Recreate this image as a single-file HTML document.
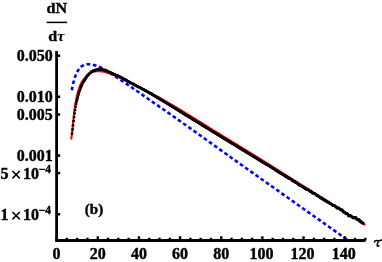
<!DOCTYPE html>
<html><head><meta charset="utf-8"><style>
html,body{margin:0;padding:0;background:#fff;}
svg{display:block;will-change:transform;transform:translateZ(0)}
text{font-family:"Liberation Serif",serif;font-weight:bold;font-size:16px;fill:#000;stroke:#000;stroke-width:0.4px;stroke-linejoin:round}
</style></head><body>
<svg width="382" height="262" viewBox="0 0 382 262">
<rect width="382" height="262" fill="#fff"/>
<path d="M71.80,90.30 L72.49,86.69 L73.18,83.51 L73.87,80.77 L74.56,78.33 L75.25,76.28 L75.94,74.52 L76.62,72.96 L77.31,71.61 L78.00,70.49 L78.69,69.47 L79.38,68.51 L80.07,67.65 L80.76,66.92 L81.45,66.33 L82.14,65.93 L82.83,65.60 L83.52,65.30 L84.21,65.01 L84.90,64.77 L85.58,64.55 L86.27,64.39 L86.96,64.27 L87.65,64.21 L88.34,64.20 L89.03,64.24 L89.72,64.30 L90.41,64.39 L91.10,64.50 L91.79,64.62 L92.48,64.76 L93.17,64.91 L93.86,65.06 L94.54,65.21 L95.23,65.38 L95.92,65.57 L96.61,65.79 L97.30,66.03 L97.99,66.28 L98.68,66.55 L99.37,66.83 L100.06,67.12 L100.75,67.43 L101.44,67.76 L102.13,68.11 L102.82,68.48 L103.50,68.87 L104.19,69.27 L104.88,69.69 L105.57,70.11 L106.26,70.55 L106.95,70.99 L107.64,71.43 L108.33,71.88 L109.02,72.33 L109.71,72.78 L110.40,73.23 L111.09,73.66 L111.77,74.10 L112.46,74.55 L113.15,75.00 L113.84,75.46 L114.53,75.92 L115.22,76.38 L115.91,76.84 L116.60,77.30 L117.29,77.76 L117.98,78.22 L118.67,78.68 L119.36,79.14 L120.05,79.60 L120.73,80.06 L121.42,80.52 L122.11,80.98 L122.80,81.43 L123.49,81.88 L124.18,82.34 L124.87,82.79 L125.56,83.24 L126.25,83.70 L126.94,84.16 L127.63,84.62 L128.32,85.09 L129.01,85.56 L129.69,86.04 L130.38,86.52 L131.07,86.99 L131.76,87.47 L132.45,87.94 L133.14,88.41 L133.83,88.88 L134.52,89.35 L135.21,89.82 L135.90,90.29 L136.59,90.77 L137.28,91.24 L137.97,91.72 L138.65,92.21 L139.34,92.69 L140.03,93.18 L140.72,93.67 L141.41,94.16 L142.10,94.65 L142.79,95.13 L143.48,95.62 L144.17,96.10 L144.86,96.58 L145.55,97.06 L146.24,97.54 L146.93,98.03 L147.61,98.51 L148.30,99.00 L148.99,99.48 L149.68,99.97 L150.37,100.46 L151.06,100.94 L151.75,101.43 L152.44,101.91 L153.13,102.39 L153.82,102.86 L154.51,103.33 L155.20,103.80 L155.89,104.26 L156.57,104.72 L157.26,105.19 L157.95,105.66 L158.64,106.14 L159.33,106.61 L160.02,107.09 L160.71,107.56 L161.40,108.04 L162.09,108.52 L162.78,109.00 L163.47,109.48 L164.16,109.95 L164.85,110.43 L165.53,110.91 L166.22,111.39 L166.91,111.87 L167.60,112.35 L168.29,112.83 L168.98,113.32 L169.67,113.80 L170.36,114.28 L171.05,114.76 L171.74,115.25 L172.43,115.73 L173.12,116.21 L173.81,116.70 L174.49,117.18 L175.18,117.66 L175.87,118.15 L176.56,118.63 L177.25,119.12 L177.94,119.61 L178.63,120.09 L179.32,120.58 L180.01,121.06 L180.70,121.55 L181.39,122.04 L182.08,122.53 L182.76,123.01 L183.45,123.50 L184.14,123.99 L184.83,124.48 L185.52,124.97 L186.21,125.46 L186.90,125.95 L187.59,126.43 L188.28,126.92 L188.97,127.41 L189.66,127.90 L190.35,128.39 L191.04,128.88 L191.72,129.37 L192.41,129.87 L193.10,130.36 L193.79,130.85 L194.48,131.34 L195.17,131.83 L195.86,132.32 L196.55,132.81 L197.24,133.30 L197.93,133.80 L198.62,134.29 L199.31,134.78 L200.00,135.27 L200.68,135.77 L201.37,136.26 L202.06,136.75 L202.75,137.24 L203.44,137.74 L204.13,138.23 L204.82,138.72 L205.51,139.22 L206.20,139.71 L206.89,140.20 L207.58,140.70 L208.27,141.19 L208.96,141.68 L209.64,142.18 L210.33,142.67 L211.02,143.16 L211.71,143.66 L212.40,144.15 L213.09,144.64 L213.78,145.14 L214.47,145.63 L215.16,146.12 L215.85,146.62 L216.54,147.11 L217.23,147.60 L217.92,148.10 L218.60,148.59 L219.29,149.08 L219.98,149.58 L220.67,150.07 L221.36,150.56 L222.05,151.06 L222.74,151.55 L223.43,152.04 L224.12,152.54 L224.81,153.03 L225.50,153.52 L226.19,154.02 L226.88,154.51 L227.56,155.00 L228.25,155.49 L228.94,155.98 L229.63,156.48 L230.32,156.97 L231.01,157.46 L231.70,157.95 L232.39,158.44 L233.08,158.94 L233.77,159.43 L234.46,159.92 L235.15,160.41 L235.84,160.90 L236.52,161.39 L237.21,161.88 L237.90,162.37 L238.59,162.86 L239.28,163.35 L239.97,163.84 L240.66,164.33 L241.35,164.82 L242.04,165.31 L242.73,165.80 L243.42,166.29 L244.11,166.77 L244.79,167.26 L245.48,167.75 L246.17,168.24 L246.86,168.73 L247.55,169.22 L248.24,169.70 L248.93,170.19 L249.62,170.68 L250.31,171.17 L251.00,171.66 L251.69,172.14 L252.38,172.63 L253.07,173.12 L253.75,173.61 L254.44,174.10 L255.13,174.58 L255.82,175.07 L256.51,175.56 L257.20,176.05 L257.89,176.54 L258.58,177.02 L259.27,177.51 L259.96,178.00 L260.65,178.49 L261.34,178.98 L262.03,179.46 L262.71,179.95 L263.40,180.44 L264.09,180.93 L264.78,181.42 L265.47,181.90 L266.16,182.39 L266.85,182.88 L267.54,183.37 L268.23,183.85 L268.92,184.34 L269.61,184.83 L270.30,185.32 L270.99,185.80 L271.67,186.29 L272.36,186.78 L273.05,187.27 L273.74,187.76 L274.43,188.24 L275.12,188.73 L275.81,189.22 L276.50,189.71 L277.19,190.19 L277.88,190.68 L278.57,191.17 L279.26,191.66 L279.95,192.14 L280.63,192.63 L281.32,193.12 L282.01,193.61 L282.70,194.09 L283.39,194.58 L284.08,195.07 L284.77,195.56 L285.46,196.04 L286.15,196.53 L286.84,197.02 L287.53,197.51 L288.22,197.99 L288.91,198.48 L289.59,198.97 L290.28,199.46 L290.97,199.94 L291.66,200.43 L292.35,200.92 L293.04,201.41 L293.73,201.89 L294.42,202.38 L295.11,202.87 L295.80,203.35 L296.49,203.84 L297.18,204.33 L297.87,204.82 L298.55,205.30 L299.24,205.79 L299.93,206.28 L300.62,206.77 L301.31,207.25 L302.00,207.74 L302.69,208.23 L303.38,208.72 L304.07,209.20 L304.76,209.69 L305.45,210.18 L306.14,210.66 L306.83,211.15 L307.51,211.64 L308.20,212.13 L308.89,212.61 L309.58,213.10 L310.27,213.59 L310.96,214.08 L311.65,214.56 L312.34,215.05 L313.03,215.54 L313.72,216.02 L314.41,216.51 L315.10,217.00 L315.78,217.49 L316.47,217.97 L317.16,218.46 L317.85,218.95 L318.54,219.43 L319.23,219.92 L319.92,220.41 L320.61,220.90 L321.30,221.38 L321.99,221.87 L322.68,222.36 L323.37,222.84 L324.06,223.33 L324.74,223.82 L325.43,224.31 L326.12,224.79 L326.81,225.28 L327.50,225.77 L328.19,226.25 L328.88,226.74 L329.57,227.23 L330.26,227.72 L330.95,228.20 L331.64,228.69 L332.33,229.18 L333.02,229.66 L333.70,230.15 L334.39,230.64 L335.08,231.12 L335.77,231.61 L336.46,232.10 L337.15,232.58 L337.84,233.07 L338.53,233.56 L339.22,234.05 L339.91,234.53 L340.60,235.02 L341.29,235.51 L341.98,235.99 L342.66,236.48 L343.35,236.97 L344.04,237.45 L344.73,237.94 L345.42,238.43 L346.11,238.91 L346.80,239.40" fill="none" stroke="#0000ff" stroke-width="2.6" stroke-dasharray="3.7 2.65" stroke-linejoin="round"/>
<path d="M71.20,139.50 L71.69,135.57 L72.18,131.68 L72.67,127.49 L73.16,122.57 L73.65,117.05 L74.15,112.74 L74.64,109.01 L75.13,105.17 L75.62,102.25 L76.11,99.93 L76.60,97.59 L77.09,95.36 L77.58,93.40 L78.07,91.61 L78.56,89.94 L79.06,88.42 L79.55,87.02 L80.04,85.71 L80.53,84.51 L81.02,83.46 L81.51,82.56 L82.00,81.75 L82.49,81.02 L82.98,80.33 L83.47,79.67 L83.97,79.01 L84.46,78.35 L84.95,77.69 L85.44,77.06 L85.93,76.46 L86.42,75.90 L86.91,75.40 L87.40,74.96 L87.89,74.58 L88.38,74.23 L88.88,73.89 L89.37,73.57 L89.86,73.28 L90.35,73.00 L90.84,72.75 L91.33,72.53 L91.82,72.33 L92.31,72.16 L92.80,72.01 L93.29,71.87 L93.79,71.73 L94.28,71.59 L94.77,71.47 L95.26,71.36 L95.75,71.26 L96.24,71.19 L96.73,71.13 L97.22,71.10 L97.71,71.10 L98.20,71.11 L98.70,71.13 L99.19,71.16 L99.68,71.20 L100.17,71.25 L100.66,71.30 L101.15,71.36 L101.64,71.42 L102.13,71.48 L102.62,71.55 L103.11,71.62 L103.61,71.70 L104.10,71.79 L104.59,71.91 L105.08,72.03 L105.57,72.17 L106.06,72.32 L106.55,72.48 L107.04,72.64 L107.53,72.81 L108.02,72.98 L108.51,73.16 L109.01,73.33 L109.50,73.50 L109.99,73.66 L110.48,73.83 L110.97,74.00 L111.46,74.18 L111.95,74.36 L112.44,74.55 L112.93,74.73 L113.42,74.92 L113.92,75.12 L114.41,75.31 L114.90,75.51 L115.39,75.71 L115.88,75.92 L116.37,76.12 L116.86,76.33 L117.35,76.54 L117.84,76.75 L118.33,76.97 L118.83,77.18 L119.32,77.40 L119.81,77.61 L120.30,77.83 L120.79,78.06 L121.28,78.28 L121.77,78.52 L122.26,78.75 L122.75,78.99 L123.24,79.23 L123.74,79.48 L124.23,79.72 L124.72,79.97 L125.21,80.23 L125.70,80.48 L126.19,80.73 L126.68,80.99 L127.17,81.24 L127.66,81.49 L128.15,81.75 L128.65,82.00 L129.14,82.26 L129.63,82.51 L130.12,82.76 L130.61,83.01 L131.10,83.25 L131.59,83.50 L132.08,83.74 L132.57,83.98 L133.06,84.22 L133.56,84.45 L134.05,84.69 L134.54,84.92 L135.03,85.15 L135.52,85.38 L136.01,85.61 L136.50,85.84 L136.99,86.07 L137.48,86.30 L137.97,86.53 L138.46,86.77 L138.96,87.00 L139.45,87.23 L139.94,87.46 L140.43,87.70 L140.92,87.93 L141.41,88.17 L141.90,88.41 L142.39,88.65 L142.88,88.89 L143.37,89.14 L143.87,89.38 L144.36,89.63 L144.85,89.88 L145.34,90.13 L145.83,90.39 L146.32,90.64 L146.81,90.90 L147.30,91.15 L147.79,91.41 L148.28,91.67 L148.78,91.92 L149.27,92.18 L149.76,92.44 L150.25,92.71 L150.74,92.97 L151.23,93.23 L151.72,93.50 L152.21,93.76 L152.70,94.03 L153.19,94.29 L153.69,94.56 L154.18,94.83 L154.67,95.10 L155.16,95.36 L155.65,95.63 L156.14,95.91 L156.63,96.18 L157.12,96.45 L157.61,96.72 L158.10,96.99 L158.60,97.27 L159.09,97.54 L159.58,97.82 L160.07,98.09 L160.56,98.37 L161.05,98.65 L161.54,98.92 L162.03,99.20 L162.52,99.48 L163.01,99.76 L163.51,100.03 L164.00,100.31 L164.49,100.59 L164.98,100.87 L165.47,101.15 L165.96,101.43 L166.45,101.71 L166.94,101.99 L167.43,102.28 L167.92,102.56 L168.42,102.84 L168.91,103.12 L169.40,103.41 L169.89,103.69 L170.38,103.98 L170.87,104.26 L171.36,104.55 L171.85,104.84 L172.34,105.13 L172.83,105.42 L173.32,105.71 L173.82,106.00 L174.31,106.29 L174.80,106.59 L175.29,106.88 L175.78,107.18 L176.27,107.47 L176.76,107.77 L177.25,108.06 L177.74,108.36 L178.23,108.65 L178.73,108.95 L179.22,109.25 L179.71,109.55 L180.20,109.85 L180.69,110.14 L181.18,110.44 L181.67,110.74 L182.16,111.04 L182.65,111.34 L183.14,111.64 L183.64,111.94 L184.13,112.24 L184.62,112.54 L185.11,112.84 L185.60,113.14 L186.09,113.44 L186.58,113.74 L187.07,114.04 L187.56,114.33 L188.05,114.63 L188.55,114.93 L189.04,115.23 L189.53,115.53 L190.02,115.83 L190.51,116.13 L191.00,116.43 L191.49,116.73 L191.98,117.03 L192.47,117.33 L192.96,117.64 L193.46,117.94 L193.95,118.24 L194.44,118.54 L194.93,118.85 L195.42,119.15 L195.91,119.45 L196.40,119.75 L196.89,120.06 L197.38,120.36 L197.87,120.67 L198.37,120.97 L198.86,121.27 L199.35,121.58 L199.84,121.88 L200.33,122.19 L200.82,122.49 L201.31,122.80 L201.80,123.10 L202.29,123.41 L202.78,123.71 L203.27,124.02 L203.77,124.32 L204.26,124.62 L204.75,124.93 L205.24,125.23 L205.73,125.54 L206.22,125.84 L206.71,126.15 L207.20,126.45 L207.69,126.76 L208.18,127.06 L208.68,127.37 L209.17,127.67 L209.66,127.98 L210.15,128.28 L210.64,128.59 L211.13,128.89 L211.62,129.20 L212.11,129.50 L212.60,129.80 L213.09,130.11 L213.59,130.41 L214.08,130.71 L214.57,131.02 L215.06,131.32 L215.55,131.62 L216.04,131.92 L216.53,132.23 L217.02,132.53 L217.51,132.83 L218.00,133.13 L218.50,133.44 L218.99,133.74 L219.48,134.04 L219.97,134.34 L220.46,134.64 L220.95,134.94 L221.44,135.24 L221.93,135.55 L222.42,135.85 L222.91,136.15 L223.41,136.45 L223.90,136.75 L224.39,137.05 L224.88,137.35 L225.37,137.65 L225.86,137.95 L226.35,138.25 L226.84,138.55 L227.33,138.85 L227.82,139.15 L228.32,139.45 L228.81,139.75 L229.30,140.05 L229.79,140.35 L230.28,140.66 L230.77,140.96 L231.26,141.26 L231.75,141.56 L232.24,141.86 L232.73,142.16 L233.23,142.46 L233.72,142.76 L234.21,143.06 L234.70,143.36 L235.19,143.66 L235.68,143.96 L236.17,144.26 L236.66,144.56 L237.15,144.86 L237.64,145.16 L238.13,145.46 L238.63,145.76 L239.12,146.06 L239.61,146.36 L240.10,146.66 L240.59,146.96 L241.08,147.26 L241.57,147.56 L242.06,147.86 L242.55,148.16 L243.04,148.46 L243.54,148.76 L244.03,149.06 L244.52,149.36 L245.01,149.66 L245.50,149.96 L245.99,150.26 L246.48,150.57 L246.97,150.87 L247.46,151.17 L247.95,151.47 L248.45,151.77 L248.94,152.07 L249.43,152.37 L249.92,152.68 L250.41,152.98 L250.90,153.28 L251.39,153.58 L251.88,153.88 L252.37,154.19 L252.86,154.49 L253.36,154.79 L253.85,155.09 L254.34,155.40 L254.83,155.70 L255.32,156.00 L255.81,156.31 L256.30,156.61 L256.79,156.91 L257.28,157.22 L257.77,157.52 L258.27,157.82 L258.76,158.13 L259.25,158.43 L259.74,158.74 L260.23,159.04 L260.72,159.35 L261.21,159.65 L261.70,159.96 L262.19,160.26 L262.68,160.57 L263.18,160.87 L263.67,161.18 L264.16,161.49 L264.65,161.79 L265.14,162.10 L265.63,162.41 L266.12,162.71 L266.61,163.02 L267.10,163.33 L267.59,163.63 L268.08,163.94 L268.58,164.25 L269.07,164.55 L269.56,164.86 L270.05,165.17 L270.54,165.48 L271.03,165.78 L271.52,166.09 L272.01,166.40 L272.50,166.71 L272.99,167.02 L273.49,167.33 L273.98,167.63 L274.47,167.94 L274.96,168.25 L275.45,168.56 L275.94,168.87 L276.43,169.18 L276.92,169.49 L277.41,169.79 L277.90,170.10 L278.40,170.41 L278.89,170.72 L279.38,171.03 L279.87,171.34 L280.36,171.65 L280.85,171.96 L281.34,172.27 L281.83,172.58 L282.32,172.89 L282.81,173.19 L283.31,173.50 L283.80,173.81 L284.29,174.12 L284.78,174.43 L285.27,174.74 L285.76,175.05 L286.25,175.36 L286.74,175.67 L287.23,175.98 L287.72,176.29 L288.22,176.60 L288.71,176.91 L289.20,177.21 L289.69,177.52 L290.18,177.83 L290.67,178.14 L291.16,178.45 L291.65,178.76 L292.14,179.07 L292.63,179.38 L293.13,179.69 L293.62,179.99 L294.11,180.30 L294.60,180.61 L295.09,180.92 L295.58,181.23 L296.07,181.54 L296.56,181.84 L297.05,182.15 L297.54,182.46 L298.04,182.77 L298.53,183.08 L299.02,183.38 L299.51,183.69 L300.00,184.00 L300.49,184.31 L300.98,184.61 L301.47,184.92 L301.96,185.23 L302.45,185.54 L302.94,185.84 L303.44,186.15 L303.93,186.46 L304.42,186.76 L304.91,187.07 L305.40,187.38 L305.89,187.68 L306.38,187.99 L306.87,188.30 L307.36,188.60 L307.85,188.91 L308.35,189.21 L308.84,189.52 L309.33,189.83 L309.82,190.13 L310.31,190.44 L310.80,190.75 L311.29,191.05 L311.78,191.36 L312.27,191.67 L312.76,191.97 L313.26,192.28 L313.75,192.58 L314.24,192.89 L314.73,193.20 L315.22,193.50 L315.71,193.81 L316.20,194.12 L316.69,194.42 L317.18,194.73 L317.67,195.04 L318.17,195.35 L318.66,195.65 L319.15,195.96 L319.64,196.27 L320.13,196.57 L320.62,196.88 L321.11,197.19 L321.60,197.50 L322.09,197.80 L322.58,198.11 L323.08,198.42 L323.57,198.73 L324.06,199.04 L324.55,199.34 L325.04,199.65 L325.53,199.96 L326.02,200.27 L326.51,200.58 L327.00,200.89 L327.49,201.20 L327.99,201.51 L328.48,201.82 L328.97,202.12 L329.46,202.43 L329.95,202.74 L330.44,203.05 L330.93,203.36 L331.42,203.67 L331.91,203.98 L332.40,204.29 L332.89,204.60 L333.39,204.91 L333.88,205.22 L334.37,205.53 L334.86,205.84 L335.35,206.15 L335.84,206.46 L336.33,206.77 L336.82,207.08 L337.31,207.39 L337.80,207.70 L338.30,208.02 L338.79,208.33 L339.28,208.64 L339.77,208.95 L340.26,209.26 L340.75,209.57 L341.24,209.88 L341.73,210.19 L342.22,210.50 L342.71,210.81 L343.21,211.12 L343.70,211.43 L344.19,211.74 L344.68,212.05 L345.17,212.36 L345.66,212.67 L346.15,212.98 L346.64,213.29 L347.13,213.60 L347.62,213.90 L348.12,214.21 L348.61,214.52 L349.10,214.83 L349.59,215.14 L350.08,215.45 L350.57,215.76 L351.06,216.07 L351.55,216.38 L352.04,216.68 L352.53,216.99 L353.03,217.30 L353.52,217.61 L354.01,217.92 L354.50,218.23 L354.99,218.54 L355.48,218.84 L355.97,219.15 L356.46,219.46 L356.95,219.77 L357.44,220.08 L357.94,220.38 L358.43,220.69 L358.92,221.00 L359.41,221.31 L359.90,221.62 L360.39,221.92 L360.88,222.23 L361.37,222.54 L361.86,222.85 L362.35,223.15 L362.85,223.46 L363.34,223.77 L363.83,224.08 L364.32,224.39 L364.81,224.69 L365.30,225.00" fill="none" stroke="#f00" stroke-width="2.1" stroke-linejoin="round"/>
<g fill="#000"><circle cx="72.03" cy="133.54" r="1.38"/><circle cx="72.55" cy="129.50" r="1.38"/><circle cx="73.06" cy="125.27" r="1.38"/><circle cx="73.58" cy="121.11" r="1.38"/><circle cx="74.09" cy="117.08" r="1.38"/><circle cx="74.61" cy="113.45" r="1.38"/><circle cx="75.12" cy="110.09" r="1.38"/><circle cx="75.64" cy="106.86" r="1.38"/><circle cx="76.15" cy="104.00" r="1.38"/><circle cx="76.67" cy="101.68" r="1.38"/><circle cx="77.18" cy="99.58" r="1.38"/><circle cx="77.69" cy="97.51" r="1.38"/><circle cx="78.21" cy="95.54" r="1.38"/><circle cx="78.72" cy="93.73" r="1.38"/><circle cx="79.24" cy="92.03" r="1.38"/><circle cx="79.75" cy="90.42" r="1.38"/><circle cx="80.27" cy="88.91" r="1.38"/><circle cx="80.78" cy="87.52" r="1.38"/><circle cx="81.30" cy="86.20" r="1.38"/><circle cx="81.81" cy="84.97" r="1.38"/><circle cx="82.33" cy="83.84" r="1.38"/><circle cx="82.84" cy="82.86" r="1.38"/><circle cx="83.35" cy="81.97" r="1.38"/><circle cx="83.87" cy="81.16" r="1.38"/><circle cx="84.38" cy="80.40" r="1.38"/><circle cx="84.90" cy="79.65" r="1.38"/><circle cx="85.41" cy="78.89" r="1.38"/><circle cx="85.93" cy="78.12" r="1.38"/><circle cx="86.44" cy="77.36" r="1.38"/><circle cx="86.96" cy="76.61" r="1.38"/><circle cx="87.47" cy="75.90" r="1.38"/><circle cx="87.98" cy="75.23" r="1.38"/><circle cx="88.50" cy="74.62" r="1.38"/><circle cx="89.01" cy="74.09" r="1.38"/><circle cx="89.53" cy="73.60" r="1.38"/><circle cx="90.04" cy="73.12" r="1.38"/><circle cx="90.56" cy="72.65" r="1.38"/><circle cx="91.07" cy="72.22" r="1.38"/><circle cx="91.59" cy="71.82" r="1.38"/><circle cx="92.10" cy="71.46" r="1.38"/><circle cx="92.62" cy="71.14" r="1.38"/><circle cx="93.13" cy="70.88" r="1.38"/><circle cx="93.64" cy="70.69" r="1.38"/><circle cx="94.16" cy="70.52" r="1.38"/><circle cx="94.67" cy="70.36" r="1.38"/><circle cx="95.19" cy="70.20" r="1.38"/><circle cx="95.70" cy="70.06" r="1.38"/><circle cx="96.22" cy="69.93" r="1.38"/><circle cx="96.73" cy="69.81" r="1.38"/><circle cx="97.25" cy="69.71" r="1.38"/><circle cx="97.76" cy="69.62" r="1.38"/><circle cx="98.27" cy="69.56" r="1.38"/><circle cx="98.79" cy="69.52" r="1.38"/><circle cx="99.30" cy="69.50" r="1.38"/><circle cx="99.82" cy="69.51" r="1.38"/><circle cx="100.33" cy="69.53" r="1.38"/><circle cx="100.85" cy="69.58" r="1.38"/><circle cx="101.36" cy="69.64" r="1.38"/><circle cx="101.88" cy="69.71" r="1.38"/><circle cx="102.39" cy="69.80" r="1.38"/><circle cx="102.91" cy="69.89" r="1.38"/><circle cx="103.42" cy="70.00" r="1.38"/><circle cx="103.93" cy="70.11" r="1.38"/><circle cx="104.45" cy="70.23" r="1.38"/><circle cx="104.96" cy="70.34" r="1.38"/><circle cx="105.48" cy="70.47" r="1.38"/><circle cx="105.99" cy="70.63" r="1.38"/><circle cx="106.51" cy="70.83" r="1.38"/><circle cx="107.02" cy="71.05" r="1.38"/><circle cx="107.54" cy="71.30" r="1.38"/><circle cx="108.05" cy="71.55" r="1.38"/><circle cx="108.56" cy="71.81" r="1.38"/><circle cx="109.08" cy="72.06" r="1.38"/><circle cx="109.59" cy="72.31" r="1.38"/><circle cx="110.11" cy="72.54" r="1.38"/><circle cx="110.62" cy="72.76" r="1.38"/><circle cx="111.14" cy="72.99" r="1.38"/><circle cx="111.65" cy="73.21" r="1.38"/><circle cx="112.17" cy="73.44" r="1.38"/><circle cx="112.68" cy="73.66" r="1.38"/><circle cx="113.19" cy="73.89" r="1.38"/><circle cx="113.71" cy="74.11" r="1.38"/><circle cx="114.22" cy="74.34" r="1.38"/><circle cx="114.74" cy="74.57" r="1.38"/><circle cx="115.25" cy="74.79" r="1.38"/><circle cx="115.77" cy="75.02" r="1.38"/><circle cx="116.28" cy="75.26" r="1.38"/><circle cx="116.80" cy="75.49" r="1.38"/><circle cx="117.31" cy="75.72" r="1.38"/><circle cx="117.83" cy="75.96" r="1.38"/><circle cx="118.34" cy="76.20" r="1.38"/><circle cx="118.85" cy="76.45" r="1.38"/><circle cx="119.37" cy="76.69" r="1.38"/><circle cx="119.88" cy="76.94" r="1.38"/><circle cx="120.40" cy="77.20" r="1.38"/><circle cx="120.91" cy="77.46" r="1.38"/><circle cx="121.43" cy="77.72" r="1.38"/><circle cx="121.94" cy="77.98" r="1.38"/><circle cx="122.46" cy="78.25" r="1.38"/><circle cx="122.97" cy="78.53" r="1.38"/><circle cx="123.48" cy="78.80" r="1.38"/><circle cx="124.00" cy="79.08" r="1.38"/><circle cx="124.51" cy="79.36" r="1.38"/><circle cx="125.03" cy="79.65" r="1.38"/><circle cx="125.54" cy="79.93" r="1.38"/><circle cx="126.06" cy="80.22" r="1.38"/><circle cx="126.57" cy="80.50" r="1.38"/><circle cx="127.09" cy="80.79" r="1.38"/><circle cx="127.60" cy="81.08" r="1.38"/><circle cx="128.12" cy="81.36" r="1.38"/><circle cx="128.63" cy="81.65" r="1.38"/><circle cx="129.14" cy="81.94" r="1.38"/><circle cx="129.66" cy="82.22" r="1.38"/><circle cx="130.17" cy="82.51" r="1.38"/><circle cx="130.69" cy="82.79" r="1.38"/><circle cx="131.20" cy="83.07" r="1.38"/><circle cx="131.72" cy="83.35" r="1.38"/><circle cx="132.23" cy="83.62" r="1.38"/><circle cx="132.75" cy="83.90" r="1.38"/><circle cx="133.26" cy="84.17" r="1.38"/><circle cx="133.78" cy="84.44" r="1.38"/><circle cx="134.29" cy="84.71" r="1.38"/><circle cx="134.80" cy="84.98" r="1.38"/><circle cx="135.32" cy="85.25" r="1.38"/><circle cx="135.83" cy="85.52" r="1.38"/><circle cx="136.35" cy="85.79" r="1.38"/><circle cx="136.86" cy="86.05" r="1.38"/><circle cx="137.38" cy="86.32" r="1.38"/><circle cx="137.89" cy="86.59" r="1.38"/><circle cx="138.41" cy="86.86" r="1.38"/><circle cx="138.92" cy="87.13" r="1.38"/><circle cx="139.43" cy="87.40" r="1.38"/><circle cx="139.95" cy="87.67" r="1.38"/><circle cx="140.46" cy="87.94" r="1.38"/><circle cx="140.98" cy="88.21" r="1.38"/><circle cx="141.49" cy="88.49" r="1.38"/><circle cx="142.01" cy="88.77" r="1.38"/><circle cx="142.52" cy="89.04" r="1.38"/><circle cx="143.04" cy="89.32" r="1.38"/><circle cx="143.55" cy="89.61" r="1.38"/><circle cx="144.06" cy="89.89" r="1.38"/><circle cx="144.58" cy="90.18" r="1.38"/><circle cx="145.09" cy="90.47" r="1.38"/><circle cx="145.61" cy="90.75" r="1.38"/><circle cx="146.12" cy="91.04" r="1.38"/><circle cx="146.64" cy="91.33" r="1.38"/><circle cx="147.15" cy="91.63" r="1.38"/><circle cx="147.67" cy="91.92" r="1.38"/><circle cx="148.18" cy="92.21" r="1.38"/><circle cx="148.70" cy="92.51" r="1.38"/><circle cx="149.21" cy="92.80" r="1.38"/><circle cx="149.72" cy="93.10" r="1.38"/><circle cx="150.24" cy="93.40" r="1.38"/><circle cx="150.75" cy="93.69" r="1.38"/><circle cx="151.27" cy="93.99" r="1.38"/><circle cx="151.78" cy="94.29" r="1.38"/><circle cx="152.30" cy="94.59" r="1.38"/><circle cx="152.81" cy="94.90" r="1.38"/><circle cx="153.33" cy="95.20" r="1.38"/><circle cx="153.84" cy="95.50" r="1.38"/><circle cx="154.35" cy="95.80" r="1.38"/><circle cx="154.87" cy="96.11" r="1.38"/><circle cx="155.38" cy="96.41" r="1.38"/><circle cx="155.90" cy="96.72" r="1.38"/><circle cx="156.41" cy="97.02" r="1.38"/><circle cx="156.93" cy="97.33" r="1.38"/><circle cx="157.44" cy="97.64" r="1.38"/><circle cx="157.96" cy="97.94" r="1.38"/><circle cx="158.47" cy="98.25" r="1.38"/><circle cx="158.99" cy="98.56" r="1.38"/><circle cx="159.50" cy="98.87" r="1.38"/><circle cx="160.01" cy="99.18" r="1.38"/><circle cx="160.53" cy="99.49" r="1.38"/><circle cx="161.04" cy="99.80" r="1.38"/><circle cx="161.56" cy="100.11" r="1.38"/><circle cx="162.07" cy="100.42" r="1.38"/><circle cx="162.59" cy="100.73" r="1.38"/><circle cx="163.10" cy="101.04" r="1.38"/><circle cx="163.62" cy="101.35" r="1.38"/><circle cx="164.13" cy="101.66" r="1.38"/><circle cx="164.64" cy="101.97" r="1.38"/><circle cx="165.16" cy="102.28" r="1.38"/><circle cx="165.67" cy="102.59" r="1.38"/><circle cx="166.19" cy="102.90" r="1.38"/><circle cx="166.70" cy="103.22" r="1.38"/><circle cx="167.22" cy="103.53" r="1.38"/><circle cx="167.73" cy="103.84" r="1.38"/><circle cx="168.25" cy="104.15" r="1.38"/><circle cx="168.76" cy="104.46" r="1.38"/><circle cx="169.28" cy="104.77" r="1.38"/><circle cx="169.79" cy="105.09" r="1.38"/><circle cx="170.30" cy="105.40" r="1.38"/><circle cx="170.82" cy="105.72" r="1.38"/><circle cx="171.33" cy="106.03" r="1.38"/><circle cx="171.85" cy="106.35" r="1.38"/><circle cx="172.36" cy="106.67" r="1.38"/><circle cx="172.88" cy="106.98" r="1.38"/><circle cx="173.39" cy="107.30" r="1.38"/><circle cx="173.91" cy="107.62" r="1.38"/><circle cx="174.42" cy="107.94" r="1.38"/><circle cx="174.94" cy="108.26" r="1.38"/><circle cx="175.45" cy="108.58" r="1.38"/><circle cx="175.96" cy="108.90" r="1.38"/><circle cx="176.48" cy="109.22" r="1.38"/><circle cx="176.99" cy="109.54" r="1.38"/><circle cx="177.51" cy="109.86" r="1.38"/><circle cx="178.02" cy="110.18" r="1.38"/><circle cx="178.54" cy="110.50" r="1.38"/><circle cx="179.05" cy="110.83" r="1.38"/><circle cx="179.57" cy="111.15" r="1.38"/><circle cx="180.08" cy="111.47" r="1.38"/><circle cx="180.59" cy="111.79" r="1.38"/><circle cx="181.11" cy="112.11" r="1.38"/><circle cx="181.62" cy="112.43" r="1.38"/><circle cx="182.14" cy="112.75" r="1.38"/><circle cx="182.65" cy="113.08" r="1.38"/><circle cx="183.17" cy="113.40" r="1.38"/><circle cx="183.68" cy="113.72" r="1.38"/><circle cx="184.20" cy="114.04" r="1.38"/><circle cx="184.71" cy="114.36" r="1.38"/><circle cx="185.22" cy="114.68" r="1.38"/><circle cx="185.74" cy="115.00" r="1.38"/><circle cx="186.25" cy="115.32" r="1.38"/><circle cx="186.77" cy="115.64" r="1.38"/><circle cx="187.28" cy="115.96" r="1.38"/><circle cx="187.80" cy="116.27" r="1.38"/><circle cx="188.31" cy="116.59" r="1.38"/><circle cx="188.83" cy="116.91" r="1.38"/><circle cx="189.34" cy="117.23" r="1.38"/><circle cx="189.86" cy="117.54" r="1.38"/><circle cx="190.37" cy="117.86" r="1.38"/><circle cx="190.88" cy="118.18" r="1.38"/><circle cx="191.40" cy="118.50" r="1.38"/><circle cx="191.91" cy="118.81" r="1.38"/><circle cx="192.43" cy="119.13" r="1.38"/><circle cx="192.94" cy="119.45" r="1.38"/><circle cx="193.46" cy="119.76" r="1.38"/><circle cx="193.97" cy="120.08" r="1.38"/><circle cx="194.49" cy="120.40" r="1.38"/><circle cx="195.00" cy="120.71" r="1.38"/><circle cx="195.51" cy="121.03" r="1.38"/><circle cx="196.03" cy="121.35" r="1.38"/><circle cx="196.54" cy="121.66" r="1.38"/><circle cx="197.06" cy="121.98" r="1.38"/><circle cx="197.57" cy="122.30" r="1.38"/><circle cx="198.09" cy="122.61" r="1.38"/><circle cx="198.60" cy="122.93" r="1.38"/><circle cx="199.12" cy="123.24" r="1.38"/><circle cx="199.63" cy="123.56" r="1.38"/><circle cx="200.15" cy="123.88" r="1.38"/><circle cx="200.66" cy="124.19" r="1.38"/><circle cx="201.17" cy="124.51" r="1.38"/><circle cx="201.69" cy="124.82" r="1.38"/><circle cx="202.20" cy="125.14" r="1.38"/><circle cx="202.72" cy="125.46" r="1.38"/><circle cx="203.23" cy="125.77" r="1.38"/><circle cx="203.75" cy="126.09" r="1.38"/><circle cx="204.26" cy="126.40" r="1.38"/><circle cx="204.78" cy="126.72" r="1.38"/><circle cx="205.29" cy="127.03" r="1.38"/><circle cx="205.80" cy="127.35" r="1.38"/><circle cx="206.32" cy="127.67" r="1.38"/><circle cx="206.83" cy="127.98" r="1.38"/><circle cx="207.35" cy="128.30" r="1.38"/><circle cx="207.86" cy="128.61" r="1.38"/><circle cx="208.38" cy="128.93" r="1.38"/><circle cx="208.89" cy="129.24" r="1.38"/><circle cx="209.41" cy="129.56" r="1.38"/><circle cx="209.92" cy="129.87" r="1.38"/><circle cx="210.44" cy="130.19" r="1.38"/><circle cx="210.95" cy="130.50" r="1.38"/><circle cx="211.46" cy="130.82" r="1.38"/><circle cx="211.98" cy="131.14" r="1.38"/><circle cx="212.49" cy="131.45" r="1.38"/><circle cx="213.01" cy="131.77" r="1.38"/><circle cx="213.52" cy="132.08" r="1.38"/><circle cx="214.04" cy="132.40" r="1.38"/><circle cx="214.55" cy="132.71" r="1.38"/><circle cx="215.07" cy="133.03" r="1.38"/><circle cx="215.58" cy="133.34" r="1.38"/><circle cx="216.09" cy="133.66" r="1.38"/><circle cx="216.61" cy="133.97" r="1.38"/><circle cx="217.12" cy="134.29" r="1.38"/><circle cx="217.64" cy="134.60" r="1.38"/><circle cx="218.15" cy="134.92" r="1.38"/><circle cx="218.67" cy="135.23" r="1.38"/><circle cx="219.18" cy="135.55" r="1.38"/><circle cx="219.70" cy="135.86" r="1.38"/><circle cx="220.21" cy="136.18" r="1.38"/><circle cx="220.73" cy="136.49" r="1.38"/><circle cx="221.24" cy="136.81" r="1.38"/><circle cx="221.75" cy="137.12" r="1.38"/><circle cx="222.27" cy="137.44" r="1.38"/><circle cx="222.78" cy="137.75" r="1.38"/><circle cx="223.30" cy="138.07" r="1.38"/><circle cx="223.81" cy="138.38" r="1.38"/><circle cx="224.33" cy="138.70" r="1.38"/><circle cx="224.84" cy="139.01" r="1.38"/><circle cx="225.36" cy="139.33" r="1.38"/><circle cx="225.87" cy="139.64" r="1.38"/><circle cx="226.38" cy="139.96" r="1.38"/><circle cx="226.90" cy="140.27" r="1.38"/><circle cx="227.41" cy="140.59" r="1.38"/><circle cx="227.93" cy="140.90" r="1.38"/><circle cx="228.44" cy="141.21" r="1.38"/><circle cx="228.96" cy="141.53" r="1.38"/><circle cx="229.47" cy="141.84" r="1.38"/><circle cx="229.99" cy="142.16" r="1.38"/><circle cx="230.50" cy="142.47" r="1.38"/><circle cx="231.02" cy="142.79" r="1.38"/><circle cx="231.53" cy="143.10" r="1.38"/><circle cx="232.04" cy="143.41" r="1.38"/><circle cx="232.56" cy="143.73" r="1.38"/><circle cx="233.07" cy="144.04" r="1.38"/><circle cx="233.59" cy="144.36" r="1.38"/><circle cx="234.10" cy="144.67" r="1.38"/><circle cx="234.62" cy="144.99" r="1.38"/><circle cx="235.13" cy="145.30" r="1.38"/><circle cx="235.65" cy="145.61" r="1.38"/><circle cx="236.16" cy="145.93" r="1.38"/><circle cx="236.67" cy="146.24" r="1.38"/><circle cx="237.19" cy="146.56" r="1.38"/><circle cx="237.70" cy="146.87" r="1.38"/><circle cx="238.22" cy="147.19" r="1.38"/><circle cx="238.73" cy="147.50" r="1.38"/><circle cx="239.25" cy="147.81" r="1.38"/><circle cx="239.76" cy="148.13" r="1.38"/><circle cx="240.28" cy="148.44" r="1.38"/><circle cx="240.79" cy="148.76" r="1.38"/><circle cx="241.31" cy="149.07" r="1.38"/><circle cx="241.82" cy="149.38" r="1.38"/><circle cx="242.33" cy="149.70" r="1.38"/><circle cx="242.85" cy="150.01" r="1.38"/><circle cx="243.36" cy="150.34" r="1.38"/><circle cx="243.88" cy="150.65" r="1.38"/><circle cx="244.39" cy="150.94" r="1.38"/><circle cx="244.91" cy="151.26" r="1.38"/><circle cx="245.42" cy="151.57" r="1.38"/><circle cx="245.94" cy="151.89" r="1.38"/><circle cx="246.45" cy="152.20" r="1.38"/><circle cx="246.96" cy="152.52" r="1.38"/><circle cx="247.48" cy="152.79" r="1.38"/><circle cx="247.99" cy="153.14" r="1.38"/><circle cx="248.51" cy="153.50" r="1.38"/><circle cx="249.02" cy="153.83" r="1.38"/><circle cx="249.54" cy="154.09" r="1.38"/><circle cx="250.05" cy="154.42" r="1.38"/><circle cx="250.57" cy="154.65" r="1.38"/><circle cx="251.08" cy="155.00" r="1.38"/><circle cx="251.60" cy="155.33" r="1.38"/><circle cx="252.11" cy="155.62" r="1.38"/><circle cx="252.62" cy="155.97" r="1.38"/><circle cx="253.14" cy="156.29" r="1.38"/><circle cx="253.65" cy="156.65" r="1.38"/><circle cx="254.17" cy="156.95" r="1.38"/><circle cx="254.68" cy="157.27" r="1.38"/><circle cx="255.20" cy="157.49" r="1.38"/><circle cx="255.71" cy="157.78" r="1.38"/><circle cx="256.23" cy="158.11" r="1.38"/><circle cx="256.74" cy="158.47" r="1.38"/><circle cx="257.25" cy="158.80" r="1.38"/><circle cx="257.77" cy="159.20" r="1.38"/><circle cx="258.28" cy="159.44" r="1.38"/><circle cx="258.80" cy="159.75" r="1.38"/><circle cx="259.31" cy="160.08" r="1.38"/><circle cx="259.83" cy="160.38" r="1.38"/><circle cx="260.34" cy="160.73" r="1.38"/><circle cx="260.86" cy="161.00" r="1.38"/><circle cx="261.37" cy="161.42" r="1.38"/><circle cx="261.89" cy="161.68" r="1.38"/><circle cx="262.40" cy="162.06" r="1.38"/><circle cx="262.91" cy="162.34" r="1.38"/><circle cx="263.43" cy="162.74" r="1.38"/><circle cx="263.94" cy="162.90" r="1.38"/><circle cx="264.46" cy="163.26" r="1.38"/><circle cx="264.97" cy="163.53" r="1.38"/><circle cx="265.49" cy="163.87" r="1.38"/><circle cx="266.00" cy="164.28" r="1.38"/><circle cx="266.52" cy="164.47" r="1.38"/><circle cx="267.03" cy="164.69" r="1.38"/><circle cx="267.55" cy="164.97" r="1.38"/><circle cx="268.06" cy="165.37" r="1.38"/><circle cx="268.57" cy="165.55" r="1.38"/><circle cx="269.09" cy="165.96" r="1.38"/><circle cx="269.60" cy="166.21" r="1.38"/><circle cx="270.12" cy="166.49" r="1.38"/><circle cx="270.63" cy="166.86" r="1.38"/><circle cx="271.15" cy="167.28" r="1.38"/><circle cx="271.66" cy="167.56" r="1.38"/><circle cx="272.18" cy="167.87" r="1.38"/><circle cx="272.69" cy="168.22" r="1.38"/><circle cx="273.20" cy="168.54" r="1.38"/><circle cx="273.72" cy="168.61" r="1.38"/><circle cx="274.23" cy="169.01" r="1.38"/><circle cx="274.75" cy="169.43" r="1.38"/><circle cx="275.26" cy="169.91" r="1.38"/><circle cx="275.78" cy="170.44" r="1.38"/><circle cx="276.29" cy="170.74" r="1.38"/><circle cx="276.81" cy="170.98" r="1.38"/><circle cx="277.32" cy="171.13" r="1.38"/><circle cx="277.83" cy="171.46" r="1.38"/><circle cx="278.35" cy="171.87" r="1.38"/><circle cx="278.86" cy="172.31" r="1.38"/><circle cx="279.38" cy="172.43" r="1.38"/><circle cx="279.89" cy="172.77" r="1.38"/><circle cx="280.41" cy="173.18" r="1.38"/><circle cx="280.92" cy="173.68" r="1.38"/><circle cx="281.44" cy="173.91" r="1.38"/><circle cx="281.95" cy="174.07" r="1.38"/><circle cx="282.47" cy="174.27" r="1.38"/><circle cx="282.98" cy="174.56" r="1.38"/><circle cx="283.49" cy="174.82" r="1.38"/><circle cx="284.01" cy="175.30" r="1.38"/><circle cx="284.52" cy="175.75" r="1.38"/><circle cx="285.04" cy="176.11" r="1.38"/><circle cx="285.55" cy="176.51" r="1.38"/><circle cx="286.07" cy="176.65" r="1.38"/><circle cx="286.58" cy="176.98" r="1.38"/><circle cx="287.10" cy="177.19" r="1.38"/><circle cx="287.61" cy="177.51" r="1.38"/><circle cx="288.12" cy="178.00" r="1.38"/><circle cx="288.64" cy="178.24" r="1.38"/><circle cx="289.15" cy="178.23" r="1.38"/><circle cx="289.67" cy="178.59" r="1.38"/><circle cx="290.18" cy="178.86" r="1.38"/><circle cx="290.70" cy="179.03" r="1.38"/><circle cx="291.21" cy="179.36" r="1.38"/><circle cx="291.73" cy="179.97" r="1.38"/><circle cx="292.24" cy="180.59" r="1.38"/><circle cx="292.76" cy="180.73" r="1.38"/><circle cx="293.27" cy="181.19" r="1.38"/><circle cx="293.78" cy="181.62" r="1.38"/><circle cx="294.30" cy="181.61" r="1.38"/><circle cx="294.81" cy="181.92" r="1.38"/><circle cx="295.33" cy="182.24" r="1.38"/><circle cx="295.84" cy="182.59" r="1.38"/><circle cx="296.36" cy="182.61" r="1.38"/><circle cx="296.87" cy="182.97" r="1.38"/><circle cx="297.39" cy="183.57" r="1.38"/><circle cx="297.90" cy="184.09" r="1.38"/><circle cx="298.41" cy="184.64" r="1.38"/><circle cx="298.93" cy="184.70" r="1.38"/><circle cx="299.44" cy="185.27" r="1.38"/><circle cx="299.96" cy="185.52" r="1.38"/><circle cx="300.47" cy="185.41" r="1.38"/><circle cx="300.99" cy="185.88" r="1.38"/><circle cx="301.50" cy="186.07" r="1.38"/><circle cx="302.02" cy="186.48" r="1.38"/><circle cx="302.53" cy="186.73" r="1.38"/><circle cx="303.05" cy="187.26" r="1.38"/><circle cx="303.56" cy="187.53" r="1.38"/><circle cx="304.07" cy="187.70" r="1.38"/><circle cx="304.59" cy="188.19" r="1.38"/><circle cx="305.10" cy="188.46" r="1.38"/><circle cx="305.62" cy="188.61" r="1.38"/><circle cx="306.13" cy="189.19" r="1.38"/><circle cx="306.65" cy="189.30" r="1.38"/><circle cx="307.16" cy="189.44" r="1.38"/><circle cx="307.68" cy="189.67" r="1.38"/><circle cx="308.19" cy="189.72" r="1.38"/><circle cx="308.70" cy="190.08" r="1.38"/><circle cx="309.22" cy="190.98" r="1.38"/><circle cx="309.73" cy="191.01" r="1.38"/><circle cx="310.25" cy="191.36" r="1.38"/><circle cx="310.76" cy="191.43" r="1.38"/><circle cx="311.28" cy="191.72" r="1.38"/><circle cx="311.79" cy="192.53" r="1.38"/><circle cx="312.31" cy="193.00" r="1.38"/><circle cx="312.82" cy="193.03" r="1.38"/><circle cx="313.34" cy="193.33" r="1.38"/><circle cx="313.85" cy="193.43" r="1.38"/><circle cx="314.36" cy="193.62" r="1.38"/><circle cx="314.88" cy="193.82" r="1.38"/><circle cx="315.39" cy="194.07" r="1.38"/><circle cx="315.91" cy="194.66" r="1.38"/><circle cx="316.42" cy="195.22" r="1.38"/><circle cx="316.94" cy="195.65" r="1.38"/><circle cx="317.45" cy="195.86" r="1.38"/><circle cx="317.97" cy="195.78" r="1.38"/><circle cx="318.48" cy="196.22" r="1.38"/><circle cx="319.00" cy="196.36" r="1.38"/><circle cx="319.51" cy="197.08" r="1.38"/><circle cx="320.02" cy="197.55" r="1.38"/><circle cx="320.54" cy="198.01" r="1.38"/><circle cx="321.05" cy="198.10" r="1.38"/><circle cx="321.57" cy="197.85" r="1.38"/><circle cx="322.08" cy="198.63" r="1.38"/><circle cx="322.60" cy="199.31" r="1.38"/><circle cx="323.11" cy="199.03" r="1.38"/><circle cx="323.63" cy="199.48" r="1.38"/><circle cx="324.14" cy="200.19" r="1.38"/><circle cx="324.65" cy="200.05" r="1.38"/><circle cx="325.17" cy="200.97" r="1.38"/><circle cx="325.68" cy="200.99" r="1.38"/><circle cx="326.20" cy="200.89" r="1.38"/><circle cx="326.71" cy="201.74" r="1.38"/><circle cx="327.23" cy="202.03" r="1.38"/><circle cx="327.74" cy="202.02" r="1.38"/><circle cx="328.26" cy="202.64" r="1.38"/><circle cx="328.77" cy="202.20" r="1.38"/><circle cx="329.29" cy="203.31" r="1.38"/><circle cx="329.80" cy="203.23" r="1.38"/><circle cx="330.31" cy="203.67" r="1.38"/><circle cx="330.83" cy="203.83" r="1.38"/><circle cx="331.34" cy="204.33" r="1.38"/><circle cx="331.86" cy="204.92" r="1.38"/><circle cx="332.37" cy="204.80" r="1.38"/><circle cx="332.89" cy="205.41" r="1.38"/><circle cx="333.40" cy="205.53" r="1.38"/><circle cx="333.92" cy="205.58" r="1.38"/><circle cx="334.43" cy="205.89" r="1.38"/><circle cx="334.94" cy="205.93" r="1.38"/><circle cx="335.46" cy="206.14" r="1.38"/><circle cx="335.97" cy="207.03" r="1.38"/><circle cx="336.49" cy="207.29" r="1.38"/><circle cx="337.00" cy="208.05" r="1.38"/><circle cx="337.52" cy="208.37" r="1.38"/><circle cx="338.03" cy="208.13" r="1.38"/><circle cx="338.55" cy="207.78" r="1.38"/><circle cx="339.06" cy="208.14" r="1.38"/><circle cx="339.57" cy="208.86" r="1.38"/><circle cx="340.09" cy="209.31" r="1.38"/><circle cx="340.60" cy="209.38" r="1.38"/><circle cx="341.12" cy="210.26" r="1.38"/><circle cx="341.63" cy="209.83" r="1.38"/><circle cx="342.15" cy="209.88" r="1.38"/><circle cx="342.66" cy="210.59" r="1.38"/><circle cx="343.18" cy="211.98" r="1.38"/><circle cx="343.69" cy="212.22" r="1.38"/><circle cx="344.21" cy="211.90" r="1.38"/><circle cx="344.72" cy="212.49" r="1.38"/><circle cx="345.23" cy="213.01" r="1.38"/><circle cx="345.75" cy="213.55" r="1.38"/><circle cx="346.26" cy="213.44" r="1.38"/><circle cx="346.78" cy="213.32" r="1.38"/><circle cx="347.29" cy="213.77" r="1.38"/><circle cx="347.81" cy="214.28" r="1.38"/><circle cx="348.32" cy="215.23" r="1.38"/><circle cx="348.84" cy="216.14" r="1.38"/><circle cx="349.35" cy="215.59" r="1.38"/><circle cx="349.87" cy="215.46" r="1.38"/><circle cx="350.38" cy="215.71" r="1.38"/><circle cx="350.89" cy="215.90" r="1.38"/><circle cx="351.41" cy="216.47" r="1.38"/><circle cx="351.92" cy="216.93" r="1.38"/><circle cx="352.44" cy="217.23" r="1.38"/><circle cx="352.95" cy="218.03" r="1.38"/><circle cx="353.47" cy="217.95" r="1.38"/><circle cx="353.98" cy="217.61" r="1.38"/><circle cx="354.50" cy="217.29" r="1.38"/><circle cx="355.01" cy="217.46" r="1.38"/><circle cx="355.52" cy="217.68" r="1.38"/><circle cx="356.04" cy="217.53" r="1.38"/><circle cx="356.55" cy="218.77" r="1.38"/><circle cx="357.07" cy="219.41" r="1.38"/><circle cx="357.58" cy="219.62" r="1.38"/><circle cx="358.10" cy="219.65" r="1.38"/><circle cx="358.61" cy="219.45" r="1.38"/><circle cx="359.13" cy="219.77" r="1.38"/><circle cx="359.64" cy="221.44" r="1.38"/><circle cx="360.15" cy="220.57" r="1.38"/><circle cx="360.67" cy="221.33" r="1.38"/><circle cx="361.18" cy="222.21" r="1.38"/><circle cx="361.70" cy="222.56" r="1.38"/><circle cx="362.21" cy="222.67" r="1.38"/><circle cx="362.73" cy="223.40" r="1.38"/><circle cx="363.24" cy="223.01" r="1.38"/></g>
<path d="M56.6,51 V240.5 H365.5" fill="none" stroke="#000" stroke-width="2.8" stroke-linejoin="miter"/>
<path d="M56.60,240.5 v-4.2 M97.76,240.5 v-4.2 M138.92,240.5 v-4.2 M180.08,240.5 v-4.2 M221.24,240.5 v-4.2 M262.40,240.5 v-4.2 M303.56,240.5 v-4.2 M344.72,240.5 v-4.2 M66.89,240.5 v-2.8 M77.18,240.5 v-2.8 M87.47,240.5 v-2.8 M108.05,240.5 v-2.8 M118.34,240.5 v-2.8 M128.63,240.5 v-2.8 M149.21,240.5 v-2.8 M159.50,240.5 v-2.8 M169.79,240.5 v-2.8 M190.37,240.5 v-2.8 M200.66,240.5 v-2.8 M210.95,240.5 v-2.8 M231.53,240.5 v-2.8 M241.82,240.5 v-2.8 M252.11,240.5 v-2.8 M272.69,240.5 v-2.8 M282.98,240.5 v-2.8 M293.27,240.5 v-2.8 M313.85,240.5 v-2.8 M324.14,240.5 v-2.8 M334.43,240.5 v-2.8 M355.01,240.5 v-2.8 M365.30,240.5 v-2.8 M56.6,55.80 h3.6 M56.6,96.82 h3.6 M56.6,114.48 h3.6 M56.6,155.50 h3.6 M56.6,173.16 h3.6 M56.6,214.18 h3.6" fill="none" stroke="#000" stroke-width="2.4"/>
<path d="M12.400000000000002,170.96 L19.8,178.36 M12.400000000000002,178.36 L19.8,170.96" stroke="#000" stroke-width="1.5" fill="none"/>
<path d="M12.400000000000002,211.98 L19.8,219.38 M12.400000000000002,219.38 L19.8,211.98" stroke="#000" stroke-width="1.5" fill="none"/>
<path d="M374.4,241.9 C375.0,240.4 376.0,240.2 377.2,240.5 C378.6,240.8 380.2,240.6 381.7,240.0" fill="none" stroke="#000" stroke-width="1.5" stroke-linecap="round"/>
<path d="M378.6,240.8 C378.0,242.6 376.9,244.4 377.1,245.5 C377.3,246.5 378.4,246.3 379.0,245.6" fill="none" stroke="#000" stroke-width="1.5" stroke-linecap="round"/>
<path d="M46.7,22.4 H67.2" stroke="#000" stroke-width="1.5"/>
<text x="56.6" y="259.0" text-anchor="middle" >0</text>
<text x="97.8" y="259.0" text-anchor="middle" >20</text>
<text x="138.9" y="259.0" text-anchor="middle" >40</text>
<text x="180.1" y="259.0" text-anchor="middle" >60</text>
<text x="221.2" y="259.0" text-anchor="middle" >80</text>
<text x="261.4" y="259.0" text-anchor="middle" >100</text>
<text x="302.6" y="259.0" text-anchor="middle" >120</text>
<text x="343.7" y="259.0" text-anchor="middle" >140</text>
<text x="52.7" y="61.10" text-anchor="end" >0.050</text>
<text x="52.7" y="102.12" text-anchor="end" >0.010</text>
<text x="52.7" y="119.78" text-anchor="end" >0.005</text>
<text x="52.7" y="160.80" text-anchor="end" >0.001</text>
<text x="0.6" y="179.46" text-anchor="start" >5</text>
<text x="38.9" y="179.46" text-anchor="end" >10</text>
<text x="38.8" y="173.16" text-anchor="start" style="font-size:11.5px">−4</text>
<text x="0.6" y="220.48" text-anchor="start" >1</text>
<text x="38.9" y="220.48" text-anchor="end" >10</text>
<text x="38.8" y="214.18" text-anchor="start" style="font-size:11.5px">−4</text>
<text x="94" y="214.3" text-anchor="middle" style="font-size:15px">(b)</text>
<text transform="translate(56.7,12.7) scale(1,0.93)" text-anchor="middle">dN</text>
<text transform="translate(56.3,40.9) scale(1,0.95)" text-anchor="middle">d<tspan font-style="italic" style="stroke-width:0.1px">τ</tspan></text>
</svg>
</body></html>
